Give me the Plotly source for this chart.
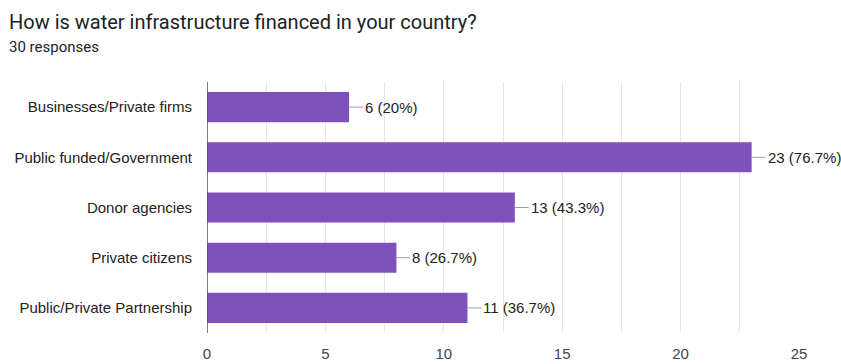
import plotly.graph_objects as go

categories = [
    "Businesses/Private firms",
    "Public funded/Government",
    "Donor agencies",
    "Private citizens",
    "Public/Private Partnership",
]
counts = [6, 23, 13, 8, 11]
percents = ["20%", "76.7%", "43.3%", "26.7%", "36.7%"]
x_ticks = [0, 5, 10, 15, 20, 25]

title_text = "How is water infrastructure financed in your country?"
subtitle_text = "30 responses"

bar_color = "#7f51ba"
text_color = "#222222"
label_font = "Liberation Sans, Arial, sans-serif"

fig = go.Figure(
    go.Bar(
        x=counts,
        y=categories,
        orientation="h",
        marker=dict(color=bar_color, line=dict(width=0)),
        width=0.6,
        hoverinfo="skip",
    )
)

# value labels with a short leader line from the end of each bar
for cat, n, pct in zip(categories, counts, percents):
    fig.add_annotation(
        x=n,
        y=cat,
        xref="x",
        yref="y",
        text=f"{n} ({pct})",
        showarrow=True,
        arrowhead=0,
        arrowwidth=1,
        arrowcolor="#9e9e9e",
        ax=14,
        ay=0,
        standoff=0,
        xanchor="left",
        font=dict(family=label_font, size=15, color=text_color),
    )

fig.add_annotation(
    text=title_text,
    xref="paper", yref="paper",
    x=-200 / 592, y=1 + 60 / 251,
    xanchor="left", yanchor="middle",
    showarrow=False,
    font=dict(family="Roboto, sans-serif", size=20, color="#202124"),
)
fig.add_annotation(
    text=subtitle_text,
    xref="paper", yref="paper",
    x=-200 / 592, y=1 + 35 / 251,
    xanchor="left", yanchor="middle",
    showarrow=False,
    font=dict(family="Roboto, sans-serif", size=15, color="#202124"),
)

fig.update_layout(
    width=841,
    height=364,
    margin=dict(l=207, r=42, t=82, b=31, autoexpand=False),
    paper_bgcolor="white",
    plot_bgcolor="white",
    showlegend=False,
    bargap=0.4,
    font=dict(family=label_font, size=15, color=text_color),
)

fig.update_xaxes(
    range=[0, 25],
    tickvals=x_ticks,
    ticktext=[str(v) for v in x_ticks],
    showgrid=True,
    gridcolor="#e6e6e6",
    gridwidth=1,
    minor=dict(dtick=2.5, tick0=0, showgrid=True, gridcolor="#e6e6e6", gridwidth=1),
    zeroline=False,
    showline=False,
    ticks="",
    ticklen=0,
    ticklabelstandoff=10,
    automargin=False,
    tickfont=dict(family=label_font, size=15, color="#444444"),
    fixedrange=True,
)

fig.update_yaxes(
    categoryorder="array",
    categoryarray=categories,
    autorange="reversed",
    showgrid=False,
    zeroline=False,
    showline=False,
    ticks="",
    ticklabelstandoff=14,
    automargin=False,
    tickfont=dict(family=label_font, size=15, color=text_color),
    fixedrange=True,
)

# baseline at x = 0
fig.add_shape(
    type="line",
    xref="x", yref="paper",
    x0=0, x1=0, y0=0, y1=1,
    line=dict(color="#555555", width=1.5),
)

fig.write_html("out.html")
